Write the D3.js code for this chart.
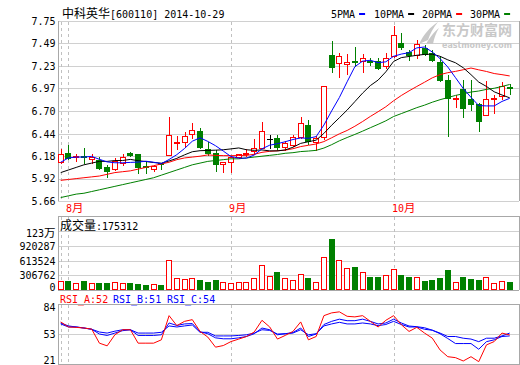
<!DOCTYPE html>
<html><head><meta charset="utf-8">
<script src="https://cdn.jsdelivr.net/npm/d3@7"></script>
<style>body{margin:0;background:#fff}svg{display:block}</style>
</head><body>
<script>
// ---------- data ----------
const dates = ["07-31","08-01","08-04","08-05","08-06","08-07","08-08","08-11","08-12","08-13","08-14","08-15","08-18","08-19","08-20","08-21","08-22","08-25","08-26","08-27","08-28","08-29","09-01","09-02","09-03","09-04","09-05","09-09","09-10","09-11","09-12","09-15","09-16","09-17","09-18","09-19","09-22","09-23","09-24","09-25","09-26","09-29","09-30","10-08","10-09","10-10","10-13","10-14","10-15","10-16","10-17","10-20","10-21","10-22","10-23","10-24","10-27","10-28","10-29"];
const open  = [6.11,6.22,6.17,6.18,6.15,6.14,6.05,6.03,6.10,6.22,6.21,6.07,6.03,6.10,6.19,6.33,6.34,6.44,6.47,6.26,6.22,6.09,6.11,6.17,6.21,6.24,6.28,6.38,6.39,6.29,6.31,6.40,6.54,6.34,6.40,7.35,7.26,7.25,7.28,7.28,7.28,7.28,7.23,7.34,7.50,7.39,7.36,7.44,7.38,7.27,7.07,6.84,6.96,6.85,6.79,6.66,6.85,6.88,6.98];
const high  = [6.26,6.31,6.21,6.28,6.21,6.17,6.08,6.16,6.20,6.23,6.21,6.12,6.08,6.10,6.64,6.41,6.46,6.57,6.51,6.35,6.25,6.11,6.18,6.21,6.26,6.38,6.58,6.43,6.43,6.36,6.43,6.64,6.60,6.42,7.00,7.52,7.38,7.37,7.45,7.37,7.32,7.32,7.38,7.69,7.61,7.41,7.53,7.47,7.41,7.33,7.12,6.89,7.07,7.07,6.80,7.05,6.89,7.04,7.02];
const low   = [6.10,6.15,6.12,6.10,6.10,6.03,5.94,6.02,6.08,6.18,5.98,5.98,6.01,6.03,6.19,6.26,6.29,6.39,6.27,6.19,6.01,6.00,6.00,6.16,6.18,6.21,6.28,6.27,6.25,6.25,6.30,6.39,6.32,6.25,6.38,7.16,7.10,7.14,7.23,7.16,7.24,7.19,7.20,7.33,7.43,7.30,7.32,7.35,7.28,7.05,6.41,6.75,6.64,6.72,6.47,6.66,6.68,6.85,6.90];
const close = [6.21,6.16,6.18,6.17,6.17,6.04,6.01,6.13,6.17,6.19,6.06,6.06,6.07,6.09,6.43,6.34,6.42,6.49,6.29,6.22,6.09,6.11,6.17,6.20,6.22,6.27,6.47,6.38,6.29,6.33,6.40,6.56,6.36,6.39,7.00,7.22,7.34,7.27,7.27,7.32,7.27,7.20,7.32,7.59,7.45,7.35,7.48,7.37,7.30,7.07,6.86,6.86,6.74,6.79,6.59,6.84,6.86,7.00,6.97];
const ma5  = [6.11,6.16,6.17,6.17,6.178,6.144,6.114,6.104,6.104,6.108,6.112,6.122,6.11,6.094,6.142,6.198,6.27,6.354,6.394,6.352,6.302,6.24,6.176,6.158,6.158,6.194,6.266,6.308,6.326,6.348,6.374,6.392,6.388,6.408,6.542,6.706,6.862,7.044,7.22,7.284,7.294,7.266,7.276,7.34,7.366,7.382,7.438,7.448,7.39,7.314,7.216,7.092,6.966,6.864,6.768,6.764,6.764,6.816,6.852];
const ma10 = [5.99,6.02,6.05,6.08,6.10,6.12,6.12,6.13,6.13,6.143,6.128,6.118,6.107,6.099,6.125,6.155,6.196,6.232,6.244,6.247,6.25,6.255,6.265,6.276,6.255,6.248,6.253,6.242,6.242,6.253,6.284,6.329,6.348,6.367,6.445,6.54,6.627,6.716,6.814,6.913,7.0,7.064,7.16,7.28,7.325,7.338,7.352,7.362,7.365,7.34,7.299,7.265,7.207,7.127,7.041,6.99,6.928,6.891,6.858];
const ma20 = [5.90,5.91,5.92,5.93,5.94,5.95,5.97,5.99,6.00,6.01,6.03,6.05,6.07,6.09,6.11,6.14,6.16,6.17,6.18,6.195,6.189,6.187,6.186,6.188,6.19,6.202,6.225,6.237,6.243,6.25,6.267,6.292,6.307,6.322,6.35,6.394,6.44,6.479,6.528,6.583,6.642,6.697,6.754,6.824,6.885,6.939,6.99,7.039,7.09,7.127,7.15,7.165,7.184,7.204,7.183,7.164,7.14,7.127,7.112];
const ma30 = [5.70,5.72,5.74,5.75,5.77,5.79,5.81,5.83,5.85,5.87,5.89,5.91,5.93,5.96,5.99,6.02,6.05,6.08,6.10,6.12,6.13,6.14,6.15,6.15,6.16,6.17,6.18,6.19,6.20,6.214,6.221,6.234,6.24,6.248,6.275,6.314,6.359,6.397,6.433,6.471,6.511,6.55,6.591,6.641,6.675,6.709,6.744,6.773,6.807,6.836,6.861,6.886,6.905,6.925,6.937,6.956,6.969,6.99,7.013];
const volume = [180000,180000,147000,180000,147000,153000,153000,168000,153000,153000,133000,112000,133000,112000,618000,241000,229000,250000,215000,174000,215000,174000,139000,160000,160000,256000,515000,297000,378000,256000,215000,331000,256000,174000,685000,1053000,618000,454000,481000,378000,276000,276000,317000,434000,317000,276000,270000,194000,215000,256000,419000,174000,276000,235000,215000,270000,153000,188000,175312];
const rsiA = [65.7,60.4,60,59.3,58.2,43.4,40.6,52.2,57.5,57.5,43.4,43.4,43.4,46.9,72.3,61.8,66.3,68.1,55.7,49.8,39.2,40.9,45.1,47.7,50.4,55.1,67.4,60.4,47.7,51.5,55.7,65.7,46.9,50.4,72.3,75.2,76.3,71.6,71.0,72.3,66.3,60.4,67.4,72.3,62.8,55.7,60,54,48.7,36.3,29.2,28.2,24.7,29.2,24,41.6,45.1,54,52];
const rsiB = [64.6,61.5,60.4,59.3,58,53,51.5,54,56.5,57.5,51.5,51.5,51.5,52.2,64.6,62,63.6,64,55.4,53.3,49,48,48,49,50.4,53.3,59.3,57.5,52.2,53.3,54.6,59.3,50.4,53,63,66.3,68.6,67,67,68.6,66.3,63.6,64.6,68.6,64.6,61.4,60.7,59.6,57,53.3,48.3,43,43,43,37,45,46.9,50.4,51];
const rsiC = [63.6,60.4,60.4,59.3,58,55.1,54,56,57.5,57.5,54,54,54,54.8,61.5,60.4,61.5,62.5,54.8,54.8,51,51,51,51.5,52.2,54,57.5,56.8,53,53.3,54,57.5,52.2,53.3,61.5,63.6,65.3,63.6,63.6,64.6,63.6,61.8,63,66.3,63,60.4,60.4,58,57,54,50.4,50.4,48.6,47.7,45,48.6,48.6,51,54];
const priceTicks = ["7.75","7.49","7.23","6.97","6.70","6.44","6.18","5.92","5.66"];
const volTicks = [0,306762,613524,920287,1227049];
const volTickLabels = ["0","306762","613524","920287","123万"];
const rsiTicks = [84,53,21];
const maNames = ["5PMA","10PMA","20PMA","30PMA"];
const stockName = "中科英华", stockCode = "[600110] 2014-10-29";

// ---------- drawing ----------
const W=520,H=365;
const MONO="'DejaVu Sans Mono', monospace", CJK="'Noto Sans CJK SC', sans-serif";
const RED="#ff0000", GREEN="#008000", BLUE="#0000ff", BLACK="#000000";
const GRID="#d0d0d0", BORDER="#a8a8a8", DASH="#c0c0c0";
const L=58, R=519;
const P={top:21,bot:201}, V={top:216,bot:290}, S={top:304,bot:364};

const svg=d3.select("body").append("svg").attr("width",W).attr("height",H);
svg.append("rect").attr("width",W).attr("height",H).attr("fill","#fff");

const n=close.length;
const x=d3.scalePoint().domain(d3.range(n)).range([60.7,509.7]);
const cx=i=>Math.round(x(i));
const yP=d3.scaleLinear().domain([5.66,7.75]).range([P.bot,P.top]);
const yV=d3.scaleLinear().domain([0,1227049]).range([V.bot,231]);
const yR=d3.scaleLinear().domain([21,84]).range([S.bot+0.5,S.top+0.5]);
const crisp=v=>Math.round(v)+0.5;

function hline(y,x1,x2,col){svg.append("line").attr("x1",x1).attr("x2",x2).attr("y1",crisp(y)).attr("y2",crisp(y)).attr("stroke",col).attr("shape-rendering","crispEdges");}
function vline(xv,y1,y2,col,dash){const l=svg.append("line").attr("x1",xv+0.5).attr("x2",xv+0.5).attr("y1",y1).attr("y2",y2).attr("stroke",col).attr("shape-rendering","crispEdges"); if(dash) l.attr("stroke-dasharray",dash);}

// gridlines
priceTicks.forEach(t=>hline(yP(+t),L,R,GRID));
volTicks.slice(1).forEach(t=>hline(yV(t),L,R,GRID));
hline(yR(53),L,R,GRID);
hline(V.top,L,R,BORDER); hline(V.bot,L,R,BORDER);
hline(S.top,L,R,BORDER); hline(S.bot,L,R,BORDER);
// borders
[[P.top,P.bot],[V.top,V.bot],[S.top,S.bot+1]].forEach(([a,b])=>{vline(L,a,b,BORDER);vline(R,a,b,BORDER);});

// month dashed lines
const monthIdx=[0];
dates.forEach((d,i)=>{ if(i>0 && d.slice(0,2)!==dates[i-1].slice(0,2)) monthIdx.push(i); });
monthIdx.forEach(i=>{ [[P.top,P.bot],[V.top,V.bot],[S.top,S.bot]].forEach(([a,b])=>vline(cx(i),a+1,b,DASH,"3,3")); });
monthIdx.filter(i=>i>0).forEach(i=>{
  const t=svg.append("text").attr("x",cx(i)-2).attr("y",212).attr("fill",RED);
  t.append("tspan").attr("font-family",MONO).attr("font-size",10).text(String(+dates[i].slice(0,2)));
  t.append("tspan").attr("font-family",CJK).attr("font-size",11.5).text("月");
});

// y tick labels
priceTicks.forEach(t=>svg.append("text").attr("x",55.5).attr("y",yP(+t)+3.8).attr("text-anchor","end").attr("font-family",MONO).attr("font-size",10).attr("fill","#000").text(t));
volTicks.forEach((t,k)=>{
  const yy = k===volTicks.length-1 ? yV(t)+6 : k===0 ? yV(t)+1 : yV(t)+4;
  const tx=svg.append("text").attr("x",55.5).attr("y",yy).attr("text-anchor","end").attr("fill","#000");
  const lab=volTickLabels[k];
  const m=lab.match(/^([0-9]+)(.*)$/);
  tx.append("tspan").attr("font-family",MONO).attr("font-size",10).text(m[1]);
  if(m[2]) tx.append("tspan").attr("font-family",CJK).attr("font-size",11.5).text(m[2]);
});
rsiTicks.forEach((t,k)=>{
  const yy = k===0 ? yR(t)+6.5 : k===rsiTicks.length-1 ? yR(t)-0.5 : yR(t)+4;
  svg.append("text").attr("x",55.5).attr("y",yy).attr("text-anchor","end").attr("font-family",MONO).attr("font-size",10).text(t);
});

// watermark
const wm=svg.append("g").attr("fill","#c8c8c8");
wm.append("path").attr("d","M419,44 C424,34 430,27 438,22 C433,28 430,34 428,40 Z M426,44 C430,37 435,31 439,28 C436,33 434,38 433,44 Z");
wm.append("text").attr("x",442).attr("y",34.5).attr("font-family",CJK).attr("font-weight","bold").attr("font-size",14).attr("textLength",70).text("东方财富网");
wm.append("text").attr("x",442).attr("y",47.5).attr("font-family","'DejaVu Sans', sans-serif").attr("font-weight","bold").attr("font-size",8.5).attr("textLength",70).attr("lengthAdjust","spacingAndGlyphs").text("eastmoney.com");

// title
const tt=svg.append("text").attr("x",62).attr("y",17.5).attr("fill","#000");
tt.append("tspan").attr("font-family",CJK).attr("font-size",12).text(stockName);
tt.append("tspan").attr("font-family",MONO).attr("font-size",10).text(stockCode);

// legend
const maCols=[BLUE,BLACK,RED,GREEN];
const legX=[331,374,422,470];
maNames.forEach((nm,k)=>{
  svg.append("text").attr("x",legX[k]).attr("y",17.5).attr("font-family",MONO).attr("font-size",10).text(nm);
  const tw=nm.length*6.02;
  svg.append("rect").attr("x",legX[k]+tw+4).attr("y",13).attr("width",6).attr("height",2).attr("fill",maCols[k]);
});

// candles
const colOf=i=> close[i]>open[i]?RED:(close[i]<open[i]?GREEN:BLACK);
const cg=svg.append("g").attr("shape-rendering","crispEdges");
d3.range(n).forEach(i=>{
  const c=cx(i), col=colOf(i);
  cg.append("line").attr("x1",c+0.5).attr("x2",c+0.5).attr("y1",Math.round(yP(high[i]))).attr("y2",Math.round(yP(low[i]))+1).attr("stroke",col);
  const yt=Math.round(yP(Math.max(open[i],close[i]))), yb=Math.round(yP(Math.min(open[i],close[i])));
  if(close[i]>open[i]){
    cg.append("rect").attr("x",c-2.5).attr("y",yt+0.5).attr("width",5).attr("height",Math.max(1,yb-yt)).attr("fill","#fff").attr("stroke",RED);
  } else if(close[i]<open[i]){
    cg.append("rect").attr("x",c-3).attr("y",yt).attr("width",6).attr("height",Math.max(1,yb-yt+1)).attr("fill",GREEN);
  } else {
    cg.append("line").attr("x1",c-3).attr("x2",c+3).attr("y1",yt+0.5).attr("y2",yt+0.5).attr("stroke",BLACK);
  }
});

// moving averages
const line=d3.line().x((d,i)=>x(i)).y(d=>yP(d));
[[ma30,GREEN],[ma20,RED],[ma10,BLACK],[ma5,BLUE]].forEach(([arr,col])=>{
  svg.append("path").attr("d",line(arr)).attr("fill","none").attr("stroke",col).attr("stroke-width",1);
});

// volume title
const vt=svg.append("text").attr("x",60).attr("y",229.5).attr("fill","#000");
vt.append("tspan").attr("font-family",CJK).attr("font-size",12).text("成交量");
vt.append("tspan").attr("font-family",MONO).attr("font-size",10).text(":"+volume[n-1]);

// volume bars
const vg=svg.append("g").attr("shape-rendering","crispEdges");
d3.range(n).forEach(i=>{
  const c=cx(i), yt=Math.round(yV(volume[i])), yb=Math.round(yV(0));
  if(close[i]>=open[i]){
    vg.append("rect").attr("x",c-2.5).attr("y",yt+0.5).attr("width",5).attr("height",yb-yt-1).attr("fill","#fff").attr("stroke",RED);
  } else {
    vg.append("rect").attr("x",c-3).attr("y",yt).attr("width",6).attr("height",yb-yt).attr("fill",GREEN);
  }
});

// RSI
const rl=d3.line().x((d,i)=>x(i)).y(d=>yR(d));
[[rsiC,BLUE],[rsiB,BLUE],[rsiA,RED]].forEach(([arr,col])=>{
  svg.append("path").attr("d",rl(arr)).attr("fill","none").attr("stroke",col).attr("stroke-width",1);
});
const rsiLab=[["RSI_A",rsiA,RED,60],["RSI_B",rsiB,BLUE,113],["RSI_C",rsiC,BLUE,167]];
rsiLab.forEach(([nm,arr,col,xx])=>{
  svg.append("text").attr("x",xx).attr("y",303).attr("font-family",MONO).attr("font-size",10).attr("fill",col).text(nm+":"+Math.round(arr[n-1]));
});
</script>
</body></html>
